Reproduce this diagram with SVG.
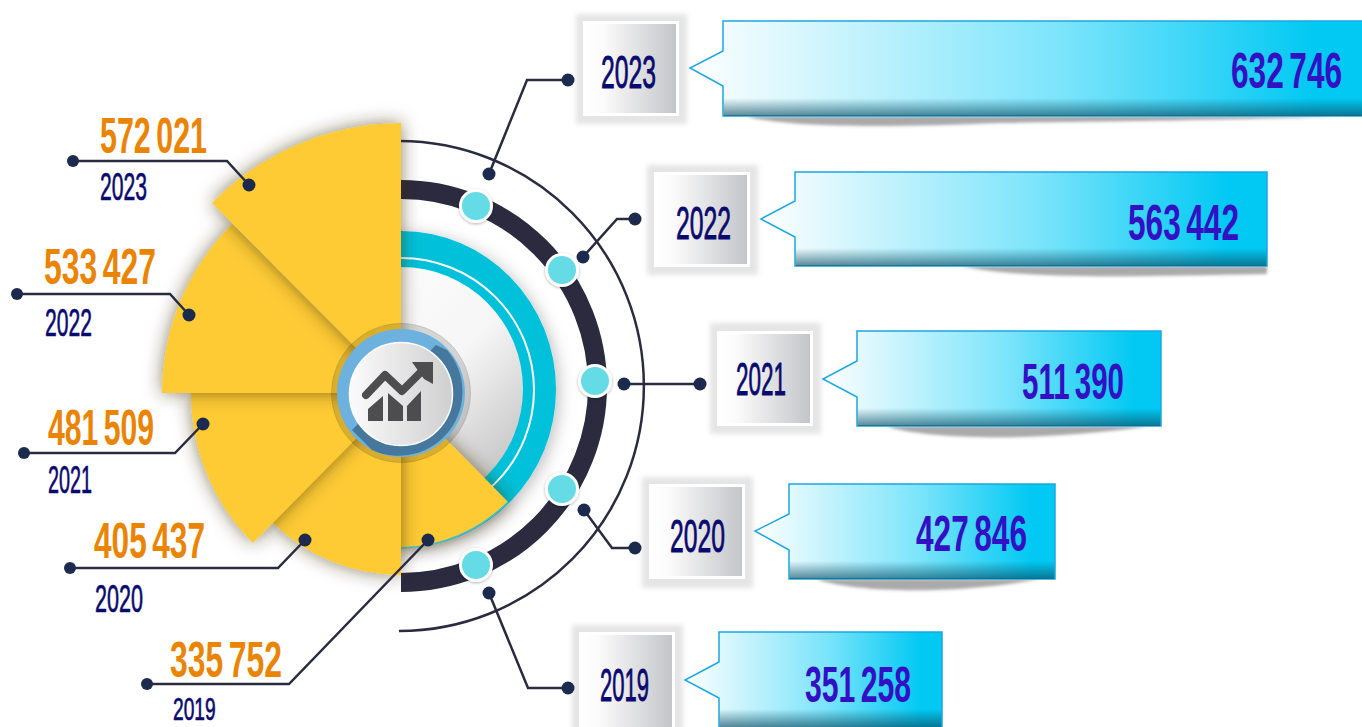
<svg xmlns="http://www.w3.org/2000/svg" width="1362" height="727" viewBox="0 0 1362 727">
<style>
text{font-family:"Liberation Sans",Arial,sans-serif}
.val{font-size:50px;font-weight:700;word-spacing:-5px;fill:#3310c4}
.org{font-size:50px;font-weight:700;word-spacing:-5px;fill:#ea8405}
.yr{font-size:47px;fill:#0a0a6e;stroke:#0a0a6e;stroke-width:.9}
.yl{font-size:38px;fill:#0a0a6e;stroke:#0a0a6e;stroke-width:.7}
.wire{fill:none;stroke:#2b2b40;stroke-width:2.5;stroke-linejoin:miter}
.dot{fill:#1c2b4d}
.sec{fill:#fecb35;filter:url(#secShadow)}
.halo{fill:#000;fill-opacity:.1;filter:url(#blur3)}
.box{fill:url(#boxGrad);stroke:#fff;stroke-width:3}
.call{fill:url(#callGrad);stroke:#1ba7e0;stroke-width:1.5}
.shade{fill:url(#shadeGrad)}
.under{fill:#555;fill-opacity:.5;filter:url(#blur2)}
.knob{fill:#65dbe6;stroke:#fff;stroke-width:3;filter:url(#knobShadow)}
</style>
<defs>
<linearGradient id="boxGrad"><stop offset="0" stop-color="#fff"/><stop offset=".2" stop-color="#fbfbfb"/><stop offset="1" stop-color="#c3c4c8"/></linearGradient>
<linearGradient id="callGrad"><stop offset="0" stop-color="#fff"/><stop offset=".05" stop-color="#f2fcfe"/><stop offset=".55" stop-color="#7be4fb"/><stop offset=".92" stop-color="#02c9f3"/><stop offset="1" stop-color="#02c9f3"/></linearGradient>
<linearGradient id="shadeGrad" x1="0" y1="0" x2="0" y2="1"><stop offset="0" stop-color="#0a4a60" stop-opacity="0"/><stop offset="1" stop-color="#0a4a60" stop-opacity=".65"/></linearGradient>
<linearGradient id="discGrad" x1="0" y1="0" x2="1" y2="1"><stop offset="0" stop-color="#fff"/><stop offset=".55" stop-color="#f6f6f6"/><stop offset="1" stop-color="#b5b5b5"/></linearGradient>
<linearGradient id="centerGrad"><stop offset="0" stop-color="#fbfbfb"/><stop offset="1" stop-color="#cfcfcf"/></linearGradient>
<filter id="secShadow" x="-30%" y="-30%" width="160%" height="160%"><feDropShadow dx="0" dy="0" stdDeviation="9" flood-color="#3a2a00" flood-opacity=".6"/></filter>
<filter id="knobShadow" x="-30%" y="-30%" width="160%" height="160%"><feDropShadow dx="0" dy="1" stdDeviation="1.5" flood-color="#000" flood-opacity=".3"/></filter>
<filter id="softShadow" x="-20%" y="-20%" width="140%" height="140%"><feDropShadow dx="3" dy="3" stdDeviation="8" flood-color="#000" flood-opacity=".25"/></filter>
<filter id="blur2" x="-5%" y="-50%" width="110%" height="200%"><feGaussianBlur stdDeviation="1.5"/></filter>
<filter id="blur3" x="-20%" y="-20%" width="140%" height="140%"><feGaussianBlur stdDeviation="2.5"/></filter>
<clipPath id="rightHalf"><rect x="401" y="0" width="300" height="727"/></clipPath>
</defs>

<g id="rings">
<path d="M399 141A245 245 0 0 1 399 631" fill="none" stroke="#2b2b40" stroke-width="2.5"/>
<path d="M401 189.500A196.500 196.500 0 0 1 401 582.500" fill="none" stroke="#2b2a3f" stroke-width="19"/>
<g clip-path="url(#rightHalf)">
<ellipse cx="401" cy="389.500" rx="155" ry="158.500" fill="#00c1d9" filter="url(#softShadow)"/>
<ellipse cx="401" cy="390" rx="133" ry="132" fill="none" stroke="#fff" stroke-width="2"/>
<circle cx="401" cy="389" r="122" fill="url(#discGrad)"/>
</g>
</g>

<g id="knobs">
<circle class="knob" cx="476" cy="206" r="15.500"/>
<circle class="knob" cx="562" cy="270" r="15.500"/>
<circle class="knob" cx="595" cy="381" r="15.500"/>
<circle class="knob" cx="562" cy="489" r="15.500"/>
<circle class="knob" cx="476" cy="565" r="15.500"/>
</g>

<g id="sector-2019"><path class="sec" d="M401 393V548A155 155 0 0 0 508 502Z"/><path d="M401 548A155 155 0 0 0 508 502" fill="none" stroke="#45c0cf" stroke-width="1.500"/></g>
<g id="sector-2020"><path class="sec" d="M401 393V575A182 182 0 0 1 272 522Z"/></g>
<g id="sector-2021"><path class="sec" d="M401 393L253 543A210 210 0 0 1 191 393Z"/></g>
<g id="sector-2022"><path class="sec" d="M401 393H162A239 239 0 0 1 232 224Z"/></g>
<g id="sector-2023"><path class="sec" d="M401 393L212 203A268 270 0 0 1 401 123Z"/></g>

<g id="center-icon">
<circle cx="401" cy="393" r="69.500" fill="#000" fill-opacity=".14" stroke="#000" stroke-opacity=".12" stroke-width="1"/>
<circle cx="401" cy="393" r="64" fill="#6db1de"/>
<path d="M436 345L447 350A64 64 0 0 1 372 450L352 430Z" fill="#45789c"/>
<circle cx="401" cy="394" r="51.500" fill="url(#centerGrad)" stroke="#fff" stroke-width="1.500"/>
<path d="M368 409L383 396V421H368ZM388 393L403 406V421H388ZM407 406L421 391V421H407Z" fill="#4d4d4f"/>
<path d="M366 395L385 375L402 391L426 367" fill="none" stroke="#4d4d4f" stroke-width="8" stroke-linecap="round" stroke-linejoin="round"/>
<path d="M412 362H433V384L424 379L419 372Z" fill="#4d4d4f"/>
</g>

<g id="node-2023">
<rect class="halo" x="576" y="14" width="111" height="110"/>
<rect class="box" x="584.500" y="22.500" width="93" height="92"/>
<text class="yr" x="601" y="87.500" textLength="55" lengthAdjust="spacingAndGlyphs">2023</text>
<path class="under" d="M745 116C790 129 900 127 1000 123C1150 121 1280 119 1340 116Z"/>
<path class="call" d="M723 21H1368V116H723V86L690 68L723 51Z"/>
<rect class="shade" x="723.700" y="98" width="644" height="18"/>
<text class="val" transform="translate(1231 88) scale(.632 1)" x="0" y="0">632 746</text>
</g>
<g id="node-2022">
<rect class="halo" x="647" y="165" width="111" height="110"/>
<rect class="box" x="655.500" y="173.500" width="93" height="92"/>
<text class="yr" x="676" y="239" textLength="55" lengthAdjust="spacingAndGlyphs">2022</text>
<path class="under" d="M960 266C1020 279 1120 277 1267 274V266Z"/>
<path class="call" d="M795 172H1267V266H795V237L761 219L795 201Z"/>
<rect class="shade" x="795.700" y="248" width="470.600" height="18"/>
<text class="val" x="1128" y="240" textLength="111" lengthAdjust="spacingAndGlyphs">563 442</text>
</g>
<g id="node-2021">
<rect class="halo" x="710" y="323" width="111" height="111"/>
<rect class="box" x="718.500" y="332.500" width="93" height="92"/>
<text class="yr" x="736" y="395" textLength="50" lengthAdjust="spacingAndGlyphs">2021</text>
<path class="under" d="M885 426C930 441 1050 441 1150 426Z"/>
<path class="call" d="M857 331H1161V426H857V397L823 379L857 361Z"/>
<rect class="shade" x="857.700" y="408" width="302.600" height="18"/>
<text class="val" x="1022" y="399" textLength="102" lengthAdjust="spacingAndGlyphs">511 390</text>
</g>
<g id="node-2020">
<rect class="halo" x="642" y="477" width="111" height="111"/>
<rect class="box" x="650.500" y="485.500" width="93" height="92"/>
<text class="yr" x="670" y="552" textLength="55" lengthAdjust="spacingAndGlyphs">2020</text>
<path class="under" d="M815 579C860 594 960 594 1040 579Z"/>
<path class="call" d="M789 484H1055V579H789V550L755 531L789 514Z"/>
<rect class="shade" x="789.700" y="561" width="264.600" height="18"/>
<text class="val" x="916" y="551" textLength="111" lengthAdjust="spacingAndGlyphs">427 846</text>
</g>
<g id="node-2019">
<rect class="halo" x="572" y="625" width="111" height="111"/>
<rect class="box" x="580.500" y="633.500" width="93" height="100"/>
<text class="yr" x="600" y="701" textLength="49" lengthAdjust="spacingAndGlyphs">2019</text>
<path class="call" d="M719 632H942V728H719V698L685 680L719 662Z"/>
<rect class="shade" x="719.700" y="709" width="221.600" height="18"/>
<text class="val" x="805" y="702" textLength="106" lengthAdjust="spacingAndGlyphs">351 258</text>
</g>

<g id="labels-left">
<text class="org" x="100" y="153" textLength="107" lengthAdjust="spacingAndGlyphs">572 021</text>
<text class="yl" x="100" y="200" textLength="47" lengthAdjust="spacingAndGlyphs">2023</text>
<text class="org" x="44" y="284" textLength="112" lengthAdjust="spacingAndGlyphs">533 427</text>
<text class="yl" x="45" y="336" textLength="47" lengthAdjust="spacingAndGlyphs">2022</text>
<text class="org" x="48" y="445" textLength="106" lengthAdjust="spacingAndGlyphs">481 509</text>
<text class="yl" x="48" y="493" textLength="44" lengthAdjust="spacingAndGlyphs">2021</text>
<text class="org" x="94" y="558" textLength="111" lengthAdjust="spacingAndGlyphs">405 437</text>
<text class="yl" x="95" y="612" textLength="48" lengthAdjust="spacingAndGlyphs">2020</text>
<text class="org" x="170" y="677" textLength="112" lengthAdjust="spacingAndGlyphs">335 752</text>
<text style="font-size:32px" class="yl" transform="translate(173 720) scale(.6 1)" x="0" y="0">2019</text>
</g>

<g id="connectors">
<path class="wire" d="M73 161H227L249 185"/><circle class="dot" cx="73" cy="161" r="6"/><circle class="dot" cx="249" cy="185" r="6.500"/>
<path class="wire" d="M17 294H170L189 315"/><circle class="dot" cx="17" cy="294" r="6"/><circle class="dot" cx="189" cy="315" r="6.500"/>
<path class="wire" d="M24 453H175L203 424"/><circle class="dot" cx="24" cy="453" r="6"/><circle class="dot" cx="203" cy="424" r="6.500"/>
<path class="wire" d="M70 568H278L305 540"/><circle class="dot" cx="70" cy="568" r="6"/><circle class="dot" cx="305" cy="540" r="6.500"/>
<path class="wire" d="M147 684H289L428 540"/><circle class="dot" cx="147" cy="684" r="6"/><circle class="dot" cx="428" cy="540" r="6.500"/>
<path class="wire" d="M489 174L527 80H568"/><circle class="dot" cx="489" cy="174" r="6.500"/><circle class="dot" cx="568" cy="80" r="6.500"/>
<path class="wire" d="M583 257L617 219H635"/><circle class="dot" cx="583" cy="257" r="6.500"/><circle class="dot" cx="635" cy="219" r="6.500"/>
<path class="wire" d="M624 384H700"/><circle class="dot" cx="624" cy="384" r="6.500"/><circle class="dot" cx="700" cy="384" r="6.500"/>
<path class="wire" d="M584 510L612 548H635"/><circle class="dot" cx="584" cy="510" r="6.500"/><circle class="dot" cx="635" cy="548" r="6.500"/>
<path class="wire" d="M489 593L528 688H568"/><circle class="dot" cx="489" cy="593" r="6.500"/><circle class="dot" cx="568" cy="688" r="6.500"/>
</g>
</svg>
